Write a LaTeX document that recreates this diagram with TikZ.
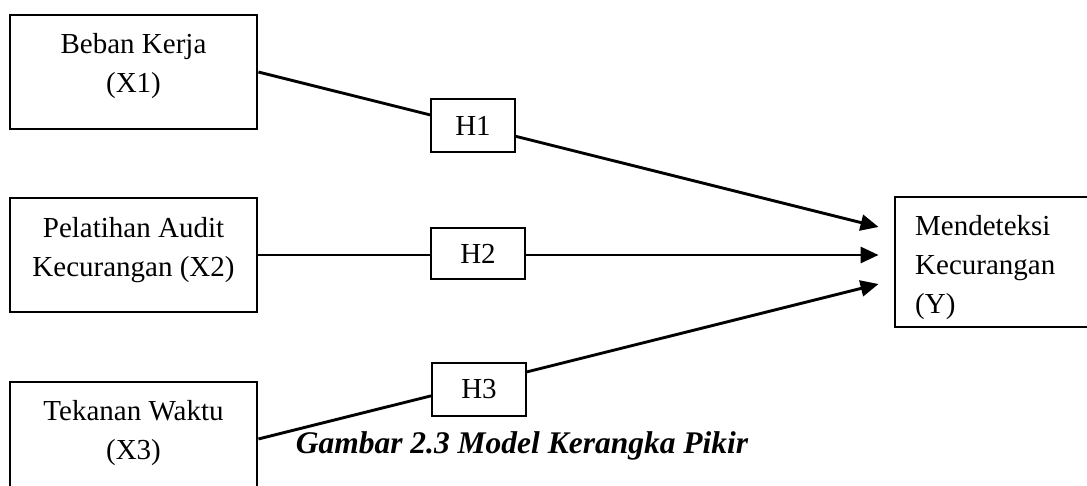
\documentclass[tikz,border=0pt]{standalone}
\usepackage{fontspec}
\setmainfont{Liberation Serif}
\usetikzlibrary{arrows.meta,calc}
\begin{document}
\begin{tikzpicture}[x=1pt,y=-1pt,
  every node/.style={font=\fontsize{29}{39}\selectfont},
  varbox/.style={draw, line width=2.9pt, minimum width=247pt, minimum height=114pt, inner sep=0pt},
  vtext/.style={inner sep=0pt, align=center},
  ytext/.style={inner sep=0pt, align=left},
  hbox/.style={draw, fill=white, line width=2.9pt, inner sep=0pt},
  arr/.style={line width=2.9pt, -{Triangle[length=18pt,width=16pt]}},
  captext/.style={font=\fontsize{31.5}{38}\selectfont\bfseries\itshape, inner sep=0pt}]
\useasboundingbox (0,0) rectangle (1087,486);
% independent variables
\node[varbox] (x1) at (133.5,72) {};
\node[vtext, anchor=north] (x1t) at (133.5,33.2) {Beban Kerja\\(X1)};
\node[varbox] (x2) at (133.5,255) {};
\node[vtext, anchor=north] (x2t) at (133.5,217.2) {Pelatihan Audit\\Kecurangan (X2)};
\node[varbox] (x3) at (133.5,439) {};
\node[vtext, anchor=north] (x3t) at (133.5,400.2) {Tekanan Waktu\\(X3)};
% dependent variable
\node[draw, line width=2.9pt, minimum width=220pt, minimum height=130pt, inner sep=0pt] (y) at (1005,262) {};
\node[ytext, anchor=north west] (yt) at (915,215.2) {Mendeteksi\\Kecurangan\\(Y)};
% arrow tips
\coordinate (t1) at ($(y.west)+(-15,-35)$);
\coordinate (t2) at ($(y.west)+(-15,-7)$);
\coordinate (t3) at ($(y.west)+(-15,22)$);
% connectors
\draw[arr] (x1.east) -- (t1);
\draw[arr] (x2.east) -- (t2);
\draw[arr] (x3.east) -- (t3);
% hypotheses
\node[hbox, minimum width=84pt, minimum height=53pt] (h1) at (473,125.5) {H1};
\node[hbox, minimum width=94pt, minimum height=51pt] (h2) at (478,253.5) {H2};
\node[hbox, minimum width=94pt, minimum height=53pt] (h3) at (479,389.5) {H3};
% caption
\node[captext, anchor=base] (cap) at (522,453) {Gambar 2.3 Model Kerangka Pikir};
\end{tikzpicture}
\end{document}
